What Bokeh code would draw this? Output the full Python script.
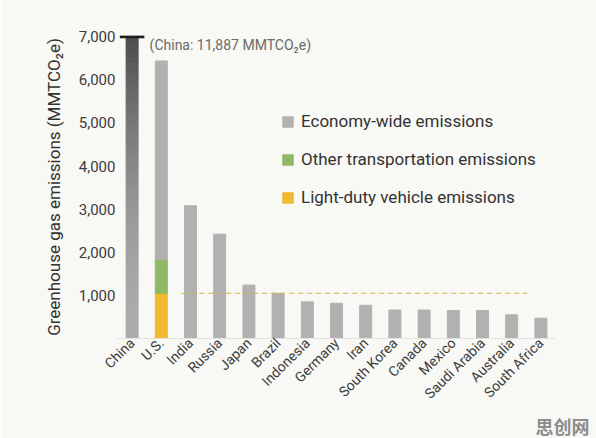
import numpy as np
from bokeh.plotting import figure
from bokeh.models import (FactorRange, Range1d, Legend, LegendItem, Label, Title,
                          FixedTicker, NumeralTickFormatter, ColumnDataSource)
from bokeh.embed import file_html
from bokeh.resources import INLINE

# ---------------- data ----------------
countries = ["China", "U.S.", "India", "Russia", "Japan", "Brazil", "Indonesia",
             "Germany", "Iran", "South Korea", "Canada", "Mexico", "Saudi Arabia",
             "Australia", "South Africa"]
economy_wide = [11887, 6440, 3080, 2420, 1240, 1050, 850, 820, 770, 660, 660,
                650, 650, 550, 470]
us_other_transport = 790     # 1,050 -> 1,840
us_light_duty = 1050
y_ticks = [1000, 2000, 3000, 4000, 5000, 6000, 7000]
y_max = 7000
china_note = "(China: 11,887 MMTCO\u2082e)"
watermark = "思创网"

FONT = "Roboto"
BG = "#f8f8f5"
GREY = "#b1b1b1"
GREEN = "#91b866"
YELLOW = "#efb932"

p = figure(width=596, height=438, x_range=FactorRange(*countries, range_padding=0),
           y_range=Range1d(0, 7030), output_backend="svg", toolbar_location=None,
           min_border_left=117, min_border_right=41, min_border_top=35,
           min_border_bottom=99, background_fill_color=BG, border_fill_color=BG,
           outline_line_color=None)
p.grid.visible = False

# other countries (grey)
others = countries[2:]
src = ColumnDataSource(dict(x=others, top=economy_wide[2:]))
r_grey = p.vbar(x="x", top="top", width=0.41, source=src, color=GREY)

# U.S. stacked
us_total = economy_wide[1]
r_y = p.vbar(x=["U.S."], bottom=[0], top=[us_light_duty], width=0.41, color=YELLOW)
r_g = p.vbar(x=["U.S."], bottom=[us_light_duty], top=[us_light_duty + us_other_transport],
             width=0.41, color=GREEN)
p.vbar(x=["U.S."], bottom=[us_light_duty + us_other_transport], top=[us_total],
       width=0.41, color=GREY)

# China truncated bar with gradient
n = 60
china_top = min(economy_wide[0], y_max)
edges = np.linspace(0, china_top, n + 1)
t = (edges[:-1] + edges[1:]) / 2 / china_top
light = np.array([0xac, 0xac, 0xac])
dark = np.array([0x4c, 0x4c, 0x4c])
cols = []
for tt in t:
    f = tt ** 1.8
    c = (light + (dark - light) * f).astype(int)
    cols.append("#%02x%02x%02x" % tuple(c))
p.vbar(x=["China"] * n, bottom=edges[:-1], top=edges[1:] + 2, width=0.41, color=cols)
p.segment(x0=[("China", -0.42)], x1=[("China", 0.42)], y0=[y_max], y1=[y_max],
          line_color="#1e1e1e", line_width=3)

# dashed reference line at U.S. light-duty level
p.segment(x0=[("India", -0.32)], x1=[("South Africa", -0.47)],
          y0=[us_light_duty], y1=[us_light_duty], line_color="#d4b43a",
          line_width=1.2, line_dash="5 4")

# China note
p.add_layout(Label(x=0.5 + 0.6, y=6800, text=china_note, text_font=FONT,
                   text_font_size="14px", text_color="#6a6a6a", text_baseline="middle"))

# axes
p.yaxis.ticker = FixedTicker(ticks=y_ticks)
p.yaxis.formatter = NumeralTickFormatter(format="0,0")
p.yaxis.axis_line_color = None
p.yaxis.major_tick_line_color = None
p.yaxis.minor_tick_line_color = None
p.yaxis.major_tick_out = 0
p.yaxis.major_tick_in = 0
p.yaxis.major_label_text_font = FONT
p.yaxis.major_label_text_font_size = "15px"
p.yaxis.major_label_text_color = "#3c3c3c"
p.yaxis.major_label_standoff = 2
p.yaxis.axis_label = "Greenhouse gas emissions (MMTCO\u2082e)"
p.yaxis.axis_label_text_font = FONT
p.yaxis.axis_label_text_font_size = "17px"
p.yaxis.axis_label_text_font_style = "normal"
p.yaxis.axis_label_text_color = "#333333"
p.yaxis.axis_label_standoff = 12

p.xaxis.axis_line_color = "#e2e2e0"
p.xaxis.major_tick_line_color = None
p.xaxis.minor_tick_line_color = None
p.xaxis.major_tick_out = 0
p.xaxis.major_tick_in = 0
p.xaxis.major_label_orientation = np.pi / 4
p.xaxis.major_label_text_font = FONT
p.xaxis.major_label_text_font_size = "14px"
p.xaxis.major_label_text_color = "#3c3c3c"
p.xaxis.major_label_standoff = 2

legend = Legend(items=[LegendItem(label="Economy-wide emissions", renderers=[r_grey]),
                       LegendItem(label="Other transportation emissions", renderers=[r_g]),
                       LegendItem(label="Light-duty vehicle emissions", renderers=[r_y])],
                location=(164, 131), orientation="vertical",
                glyph_width=13, glyph_height=13, label_height=20, spacing=18,
                padding=0, margin=0, label_standoff=7,
                label_text_font=FONT, label_text_font_size="17px",
                label_text_color="#333333", border_line_color=None,
                background_fill_alpha=0)
p.add_layout(legend, "center")

p.add_layout(Title(text=watermark, align="right", offset=-34, standoff=0,
                   text_font="Noto Sans CJK SC", text_font_size="18px",
                   text_font_style="bold", text_color="#8c8c8c"), "below")

open("out.html", "w").write(file_html(p, INLINE))
